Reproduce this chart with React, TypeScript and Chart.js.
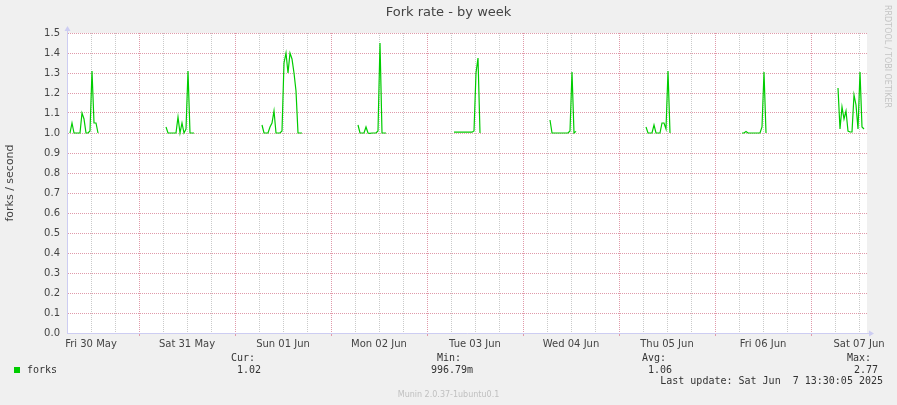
import React, { useEffect, useRef } from 'react';
import { Chart, registerables } from 'chart.js';

Chart.register(...registerables);

// ---- data ----
const TITLE = 'Fork rate - by week';
const Y_TITLE = 'forks / second';
const DAY_LABELS = ['Fri 30 May', 'Sat 31 May', 'Sun 01 Jun', 'Mon 02 Jun', 'Tue 03 Jun', 'Wed 04 Jun', 'Thu 05 Jun', 'Fri 06 Jun', 'Sat 07 Jun'];
// hours since Fri 30 May 00:00
const X_MIN = 6;
const X_MAX = 206;
const STEP_HOURS = 0.5;
const burstStarts = [6.75, 30.75, 54.75, 78.75, 102.75, 126.75, 150.75, 174.75, 198.75];
const burstFri30 = [1.0, 1.05, 1.0, 1.0, 1.0, 1.0, 1.1, 1.07, 1.0, 1.0, 1.01, 1.31, 1.05, 1.05, 1.0];
const burstSat31 = [1.03, 1.0, 1.0, 1.0, 1.0, 1.0, 1.08, 1.0, 1.05, 1.0, 1.02, 1.31, 1.0, 1.0, 1.0];
const burstSun01 = [1.04, 1.0, 1.0, 1.0, 1.03, 1.05, 1.11, 1.0, 1.0, 1.0, 1.01, 1.35, 1.4, 1.3, 1.4, 1.37, 1.3, 1.21, 1.0, 1.0, 1.0];
const burstMon02 = [1.04, 1.0, 1.0, 1.0, 1.03, 1.0, 0.998, 1.0, 1.0, 1.0, 1.01, 1.45, 1.0, 1.0, 1.0];
const burstTue03 = [1.004, 1.004, 1.004, 1.004, 1.004, 1.004, 1.004, 1.004, 1.004, 1.004, 1.01, 1.3, 1.375, 1.0];
const burstWed04 = [1.065, 1.0, 1.0, 1.0, 1.0, 1.0, 1.0, 1.0, 1.0, 1.0, 1.01, 1.305, 1.0, 1.008];
const burstThu05 = [1.03, 1.0, 1.0, 1.0, 1.04, 1.0, 1.0, 1.0, 1.05, 1.05, 1.02, 1.31, 1.0];
const burstFri06 = [1.0, 1.0, 1.007, 1.0, 1.0, 1.0, 1.0, 1.0, 1.0, 1.0, 1.03, 1.305, 1.0];
const burstSat07 = [1.225, 1.02, 1.13, 1.07, 1.11, 1.01, 1.005, 1.005, 1.19, 1.14, 1.02, 1.305, 1.03, 1.02];
const bursts = [burstFri30, burstSat31, burstSun01, burstMon02, burstTue03, burstWed04, burstThu05, burstFri06, burstSat07];

const Y_MIN = 0;
const Y_MAX = 1.5;
const Y_STEP = 0.1;

const LEGEND_NAME = 'forks';
const STAT_CUR = '1.02';
const STAT_MIN = '996.79m';
const STAT_AVG = '1.06';
const STAT_MAX = '2.77';
const LAST_UPDATE = 'Last update: Sat Jun  7 13:30:05 2025';
const VERSION = 'Munin 2.0.37-1ubuntu0.1';
const WATERMARK = 'RRDTOOL / TOBI OETIKER';

const SANS = '"DejaVu Sans", sans-serif';
const MONO = '"DejaVu Sans Mono", monospace';
const LINE_COLOR = '#00cc00';
const MAJOR_GRID = '#e09aaa';
const MINOR_GRID = '#cacaca';
const AXIS_COLOR = '#cdcdf2';

function buildPoints() {
  const pts: { x: number; y: number | null }[] = [];
  bursts.forEach((vals, i) => {
    const start = burstStarts[i];
    vals.forEach((v, j) => pts.push({ x: start + j * STEP_HOURS, y: v }));
    pts.push({ x: start + vals.length * STEP_HOURS, y: null });
  });
  return pts;
}

const decorPlugin = {
  id: 'muninDecor',
  beforeDraw(chart: any) {
    const { ctx, chartArea: a, width, height } = chart;
    ctx.save();
    ctx.fillStyle = '#f0f0f0';
    ctx.fillRect(0, 0, width, height);
    ctx.fillStyle = '#ffffff';
    ctx.fillRect(a.left, a.top, a.right - a.left, a.bottom - a.top);
    ctx.restore();
  },
  afterDraw(chart: any) {
    const { ctx, chartArea: a, width } = chart;
    ctx.save();
    // axis arrows
    ctx.fillStyle = AXIS_COLOR;
    ctx.strokeStyle = AXIS_COLOR;
    ctx.lineWidth = 1;
    ctx.beginPath();
    ctx.moveTo(a.left + 0.5, a.top);
    ctx.lineTo(a.left + 0.5, a.top - 4);
    ctx.stroke();
    ctx.beginPath();
    ctx.moveTo(a.left - 2.5, a.top - 2);
    ctx.lineTo(a.left + 3.5, a.top - 2);
    ctx.lineTo(a.left + 0.5, a.top - 7);
    ctx.closePath();
    ctx.fill();
    ctx.beginPath();
    ctx.moveTo(a.right, a.bottom + 0.5);
    ctx.lineTo(a.right + 3, a.bottom + 0.5);
    ctx.stroke();
    ctx.beginPath();
    ctx.moveTo(a.right + 2, a.bottom - 2.5);
    ctx.lineTo(a.right + 2, a.bottom + 3.5);
    ctx.lineTo(a.right + 7, a.bottom + 0.5);
    ctx.closePath();
    ctx.fill();

    // title
    ctx.fillStyle = '#444444';
    ctx.font = `13px ${SANS}`;
    ctx.textAlign = 'center';
    ctx.textBaseline = 'middle';
    ctx.fillText(TITLE, width / 2, 13);

    // watermark
    ctx.save();
    ctx.translate(887, 5);
    ctx.rotate(Math.PI / 2);
    ctx.fillStyle = '#c4c4c4';
    ctx.font = `8px ${SANS}`;
    ctx.textAlign = 'left';
    ctx.textBaseline = 'middle';
    ctx.fillText(WATERMARK, 0, 0);
    ctx.restore();

    // legend
    ctx.fillStyle = LINE_COLOR;
    ctx.fillRect(14, 367, 6, 6);
    ctx.fillStyle = '#333333';
    ctx.font = `10px ${MONO}`;
    ctx.textAlign = 'left';
    ctx.textBaseline = 'middle';
    ctx.fillText(LEGEND_NAME, 27, 370);
    ctx.fillText('Cur:', 231, 358);
    ctx.fillText(STAT_CUR, 237, 370);
    ctx.fillText('Min:', 437, 358);
    ctx.fillText(STAT_MIN, 431, 370);
    ctx.fillText('Avg:', 642, 358);
    ctx.fillText(STAT_AVG, 648, 370);
    ctx.fillText('Max:', 847, 358);
    ctx.fillText(STAT_MAX, 854, 370);
    ctx.textAlign = 'right';
    ctx.fillText(LAST_UPDATE, 883, 381);

    // version
    ctx.fillStyle = '#c0c0c0';
    ctx.font = `8px ${SANS}`;
    ctx.textAlign = 'center';
    ctx.fillText(VERSION, width / 2, 395);
    ctx.restore();
  },
};

export default function App() {
  const ref = useRef<HTMLCanvasElement | null>(null);
  useEffect(() => {
    if (!ref.current) return;
    const chart = new Chart(ref.current, {
      type: 'line',
      data: {
        datasets: [
          {
            label: LEGEND_NAME,
            data: buildPoints() as any,
            borderColor: LINE_COLOR,
            borderWidth: 1.2,
            pointRadius: 0,
            tension: 0,
            spanGaps: false,
            fill: false,
          },
        ],
      },
      options: {
        animation: false,
        responsive: false,
        maintainAspectRatio: false,
        layout: { padding: { top: 33, right: 30, left: 0, bottom: 0 } },
        plugins: {
          legend: { display: false },
          tooltip: { enabled: false },
          title: { display: false },
        },
        scales: {
          x: {
            type: 'linear',
            min: X_MIN,
            max: X_MAX,
            afterFit: (s: any) => {
              s.height = 72;
            },
            afterBuildTicks: (s: any) => {
              const t = [];
              for (let h = X_MIN; h < X_MAX; h += 6) t.push({ value: h });
              s.ticks = t;
            },
            ticks: {
              autoSkip: false,
              maxRotation: 0,
              minRotation: 0,
              padding: 2,
              color: '#444444',
              font: { family: SANS, size: 10 },
              callback: (v: any) => (v % 24 === 12 ? DAY_LABELS[Math.floor(v / 24)] : ''),
            },
            grid: {
              color: (c: any) => (c.tick && c.tick.value % 24 === 0 ? MAJOR_GRID : MINOR_GRID),
              tickColor: (c: any) => (c.tick && c.tick.value % 24 === 0 ? MAJOR_GRID : 'rgba(0,0,0,0)'),
              tickLength: 3,
              lineWidth: 1,
            },
            border: { color: AXIS_COLOR, width: 1, dash: [1, 1] },
          },
          y: {
            min: Y_MIN,
            max: Y_MAX,
            afterFit: (s: any) => {
              s.width = 67;
            },
            ticks: {
              stepSize: Y_STEP,
              padding: 7,
              color: '#444444',
              font: { family: SANS, size: 10 },
              callback: (v: any) => Number(v).toFixed(1),
            },
            grid: {
              color: MAJOR_GRID,
              drawTicks: false,
              lineWidth: 1,
            },
            border: { color: AXIS_COLOR, width: 1, dash: [1, 1] },
            title: {
              display: true,
              text: Y_TITLE,
              color: '#444444',
              font: { family: SANS, size: 11 },
              padding: { top: 4, bottom: 0 },
            },
          },
        },
      },
      plugins: [decorPlugin],
    });
    return () => chart.destroy();
  }, []);
  return (
    <div style={{ position: 'absolute', left: 0, top: 0, width: 897, height: 405 }}>
      <canvas ref={ref} width={897} height={405} style={{ display: 'block', width: 897, height: 405 }} />
    </div>
  );
}
